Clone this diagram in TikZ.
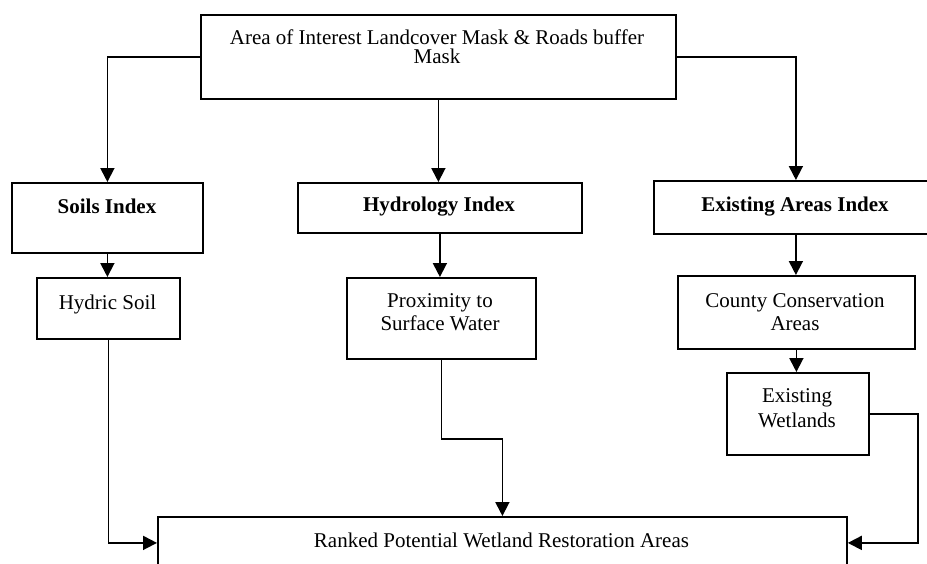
\documentclass[tikz,border=0pt]{standalone}
\usepackage{fontspec}
\setmainfont{Liberation Serif}
\usetikzlibrary{arrows.meta}
\tikzset{
  x=1pt, y=-1pt,
  box/.style={draw, line width=1.8pt, inner sep=0pt, anchor=north west},
  txt/.style={inner sep=0pt, anchor=base, font=\fontsize{21}{24}\selectfont},
  btxt/.style={txt, font=\fontsize{21}{24}\selectfont\bfseries},
  arr/.style={line width=1.8pt, -{Triangle[length=14pt,width=14pt]}},
}
\begin{document}
\begin{tikzpicture}
\path[use as bounding box, clip] (0,0) rectangle (927,563);
% boxes
\node[box, minimum width=475pt, minimum height=84pt] (top) at (200,14) {};
\node[box, minimum width=191pt, minimum height=70pt] (soils) at (11,182) {};
\node[box, minimum width=284pt, minimum height=50pt] (hydro) at (297,182) {};
\node[box, minimum width=284pt, minimum height=53pt] (exist) at (653,180) {};
\node[box, minimum width=143pt, minimum height=61pt] (hydric) at (36,277) {};
\node[box, minimum width=189pt, minimum height=81pt] (prox) at (346,277) {};
\node[box, minimum width=237pt, minimum height=73pt] (county) at (677,275) {};
\node[box, minimum width=142pt, minimum height=82pt] (wet) at (726,372) {};
\node[box, minimum width=689pt, minimum height=52pt] (ranked) at (157,516) {};
% texts
\node[inner sep=0pt, anchor=center, align=center, font=\fontsize{21}{19}\selectfont] (t1) at (437,47)
  {Area of Interest Landcover Mask \& Roads buffer\\Mask};
\node[btxt] (t3) at (107,213) {Soils Index};
\node[btxt] (t4) at (439,211) {Hydrology Index};
\node[btxt] (t5) at (795,211) {Existing Areas Index};
\node[txt] (t6) at (107.5,309) {Hydric Soil};
\node[txt] (t7) at (440,307) {Proximity to};
\node[txt] (t8) at (440,330) {Surface Water};
\node[txt] (t9) at (795,307) {County Conservation};
\node[txt] (t10) at (795,330) {Areas};
\node[txt] (t11) at (797,402) {Existing};
\node[txt] (t12) at (797,427) {Wetlands};
\node[txt] (t13) at (501.5,547) {Ranked Potential Wetland Restoration Areas};
% connectors
\draw[arr] (top.west) -| (soils.north);
\draw[arr] (top.south) -- (top.south |- hydro.north);
\draw[arr] (top.east) -| (exist.north);
\draw[arr] (soils.south) -- (soils.south |- hydric.north);
\draw[arr] (hydro.south) -- (hydro.south |- prox.north);
\draw[arr] (exist.south) -- (exist.south |- county.north);
\draw[arr] (county.south) -- (county.south |- wet.north);
\draw[arr] (hydric.south) |- (ranked.west);
\draw[arr] (prox.south) -- ++(0,79) -| (ranked.north);
\draw[arr] (wet.east) -- ++(48,0) |- (ranked.east);
\end{tikzpicture}
\end{document}
